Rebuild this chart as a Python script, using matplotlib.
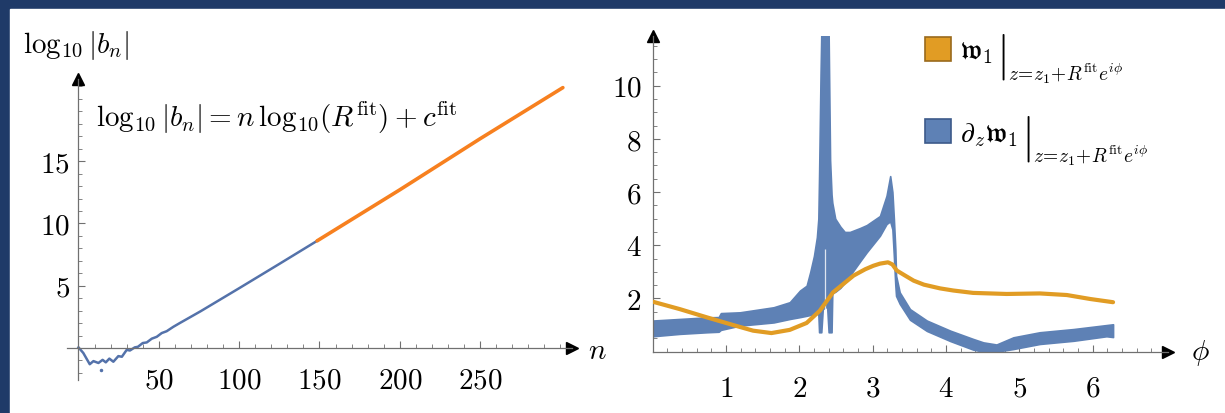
import matplotlib
matplotlib.use("Agg")
import matplotlib.pyplot as plt
from matplotlib.patches import Patch, Rectangle
from matplotlib.ticker import FixedLocator, MultipleLocator

plt.rcParams["font.family"] = "serif"
plt.rcParams["font.serif"] = ["cmr10"]
plt.rcParams["mathtext.fontset"] = "cm"
plt.rcParams["axes.formatter.use_mathtext"] = True
plt.rcParams["axes.unicode_minus"] = False

# left panel: log10|b_n| against n (blue = data, orange = fitted range)
n_data = [0, 3, 7, 9.3, 12.4, 15, 17, 19.2, 21.7, 24.8, 27, 30, 32, 35, 37, 40,
          42.5, 45.6, 48.7, 51.8, 54.9, 59, 63, 76, 100, 125, 148.5]
logb_data = [0.05, -0.4, -1.3, -1.05, -1.2, -0.95, -1.15, -0.85, -1.1, -0.65, -0.7,
             -0.15, -0.2, 0.05, 0.1, 0.4, 0.45, 0.75, 0.9, 1.2, 1.35, 1.7, 2.0,
             2.95, 4.8, 6.75, 8.6]
n_fit = [148.5, 200, 250, 301.5]
logb_fit = [8.6, 12.7, 16.8, 20.9]
n_stray = [14]
logb_stray = [-1.8]

# right panel: band of d_z w1 (lower / upper envelope) and w1
phi_band = [0.00, 0.37, 0.74, 0.90, 0.93, 1.19, 1.65, 1.87, 2.01, 2.10, 2.15, 2.20,
            2.24, 2.26, 2.27, 2.29, 2.30, 2.32, 2.38, 2.40, 2.42, 2.44, 2.45, 2.49,
            2.56, 2.62, 2.69, 2.83, 2.92, 3.10, 3.19, 3.24, 3.27, 3.29, 3.31, 3.32,
            3.37, 3.51, 3.74, 4.06, 4.37, 4.51, 4.69, 4.92, 5.28, 5.74, 6.19, 6.28]
dw_lo = [0.58, 0.67, 0.73, 0.75, 0.82, 0.98, 1.10, 1.23, 1.30, 1.35, 1.38, 1.40,
         1.42, 1.42, 0.73, 0.73, 0.73, 1.60, 1.70, 0.73, 0.73, 0.73, 2.20, 2.25,
         2.40, 2.60, 2.86, 3.40, 3.74, 4.36, 4.80, 4.90, 4.60, 3.60, 2.50, 2.10,
         1.80, 1.20, 0.78, 0.40, 0.08, 0.00, 0.00, 0.10, 0.29, 0.41, 0.58, 0.55]
dw_hi = [1.17, 1.23, 1.29, 1.30, 1.45, 1.48, 1.67, 1.86, 2.30, 2.48, 3.00, 3.60,
         4.30, 5.00, 6.60, 10.4, 11.9, 11.9, 11.9, 11.9, 7.20, 5.90, 5.60, 5.00,
         4.70, 4.50, 4.50, 4.65, 4.76, 5.10, 5.86, 6.60, 6.00, 5.00, 3.86, 2.86,
         2.23, 1.60, 1.17, 0.79, 0.48, 0.35, 0.27, 0.54, 0.73, 0.85, 1.00, 1.03]
gap_phi = [2.35]
gap_lo = [0.75]
gap_hi = [3.86]

phi_w = [0, 0.37, 0.74, 1.10, 1.37, 1.62, 1.87, 2.10, 2.28, 2.46, 2.74, 2.90,
         3.01, 3.10, 3.21, 3.27, 3.33, 3.45, 3.56, 3.70, 3.92, 4.10, 4.37, 4.83,
         5.28, 5.65, 5.97, 6.28]
w_vals = [1.88, 1.60, 1.29, 1.00, 0.79, 0.70, 0.82, 1.08, 1.54, 2.23, 2.86, 3.10,
          3.23, 3.31, 3.36, 3.28, 3.05, 2.85, 2.67, 2.52, 2.38, 2.30, 2.21, 2.17,
          2.19, 2.13, 1.98, 1.86]

BLUE = "#5e81b5"
BLUE_LEFT = "#5472aa"
ORANGE_FIT = "#f7801f"
ORANGE = "#e19c24"
AXIS = "#707070"
NAVY = "#1f3a68"
FS = 21


def style_axes(ax):
    ax.set_facecolor("none")
    for side in ["top", "right"]:
        ax.spines[side].set_visible(False)
    for side in ["left", "bottom"]:
        ax.spines[side].set_position(("data", 0))
        ax.spines[side].set_color(AXIS)
        ax.spines[side].set_linewidth(0.9)
    ax.tick_params(which="both", direction="in", color=AXIS, labelsize=FS)
    ax.tick_params(which="major", length=5, width=0.8)
    ax.tick_params(which="minor", length=3, width=0.6)
    # arrow heads at the ends of the axes
    ax.plot(1, 0, ">", color="black", ms=9, transform=ax.get_yaxis_transform(), clip_on=False)
    ax.plot(0, 1, "^", color="black", ms=9, transform=ax.get_xaxis_transform(), clip_on=False)


fig = plt.figure(figsize=(12.25, 4.14), dpi=100, facecolor=NAVY)
fig.patches.append(Rectangle((10 / 1225, 0), 1 - 10 / 1225, 1 - 10 / 414,
                             transform=fig.transFigure, color="white", zorder=-10))

# ---- left panel
ax1 = fig.add_axes([0.0549, 0.0787, 0.4118, 0.7283])
ax1.plot(n_data, logb_data, color=BLUE_LEFT, lw=1.8, solid_joinstyle="round")
ax1.plot(n_fit, logb_fit, color=ORANGE_FIT, lw=2.6, solid_capstyle="round")
ax1.plot(n_stray, logb_stray, "o", color=BLUE_LEFT, ms=1.5)
ax1.set_xlim(-7, 307)
ax1.set_ylim(-2.6, 21.6)
style_axes(ax1)
ax1.xaxis.set_major_locator(FixedLocator([50, 100, 150, 200, 250]))
ax1.xaxis.set_minor_locator(MultipleLocator(10))
ax1.yaxis.set_major_locator(FixedLocator([5, 10, 15]))
ax1.yaxis.set_minor_locator(MultipleLocator(1))
ax1.tick_params(axis="x", pad=14)
ax1.tick_params(axis="y", pad=6)
ax1.text(0.057, 0.874,
         r"$\mathrm{log}_{10}\,|b_n| = n\,\mathrm{log}_{10}(R^{\rm fit}) + c^{\rm fit}$",
         transform=ax1.transAxes, fontsize=FS, ha="left", va="center")
fig.text(23 / 1225, 1 - 45 / 414, r"$\mathrm{log}_{10}\,|b_n|$", fontsize=FS,
         ha="left", va="center")
fig.text(597 / 1225, 1 - 352 / 414, r"$n$", fontsize=FS, ha="center", va="center")

# ---- right panel
ax2 = fig.add_axes([0.5328, 0.1481, 0.4207, 0.7614])
ax2.fill_between(phi_band, dw_lo, dw_hi, color=BLUE, lw=1.2, zorder=2)
ax2.vlines(gap_phi, gap_lo, gap_hi, color="white", lw=0.9, alpha=0.8, zorder=2.5)
ax2.plot(phi_w, w_vals, color=ORANGE, lw=3, solid_capstyle="round",
         solid_joinstyle="round", zorder=3)
ax2.set_xlim(0, 7.03)
ax2.set_ylim(0, 11.85)
style_axes(ax2)
ax2.xaxis.set_major_locator(FixedLocator([1, 2, 3, 4, 5, 6]))
ax2.xaxis.set_minor_locator(MultipleLocator(0.2))
ax2.yaxis.set_major_locator(FixedLocator([2, 4, 6, 8, 10]))
ax2.yaxis.set_minor_locator(MultipleLocator(0.5))
ax2.tick_params(axis="x", pad=17)
ax2.tick_params(axis="y", pad=8)
fig.text(1200 / 1225, 1 - 353 / 414, r"$\phi$", fontsize=FS, ha="center", va="center")

handles = [Patch(facecolor=ORANGE, edgecolor="#9a6a1c", lw=1.2),
           Patch(facecolor=BLUE, edgecolor="#3d5a8a", lw=1.2)]
labels = [r"$\mathfrak{w}_1$", r"$\partial_z\mathfrak{w}_1$"]
leg = ax2.legend(handles, labels, loc="upper left",
                 bbox_to_anchor=(925 / 1225, 1 - 38 / 414), bbox_transform=fig.transFigure,
                 frameon=False, borderpad=0, borderaxespad=0, handlelength=0.95,
                 handleheight=0.95, handletextpad=0.3, labelspacing=1.95, fontsize=20)
# evaluation bar and its subscript, placed after each legend label
for t in leg.get_texts():
    bar = ax2.annotate(r"$|$", xy=(1, 0.5), xycoords=t, xytext=(2.5, -3),
                       textcoords="offset points", fontsize=34, ha="left", va="center",
                       annotation_clip=False, zorder=6)
    ax2.annotate(r"$z\!=\!z_1\!+\!R^{\rm fit}e^{i\phi}$", xy=(1, 0), xycoords=bar,
                 xytext=(2, -3), textcoords="offset points", fontsize=14, ha="left",
                 va="bottom", annotation_clip=False, zorder=7)

fig.savefig("out.png", dpi=100, facecolor=fig.get_facecolor())
